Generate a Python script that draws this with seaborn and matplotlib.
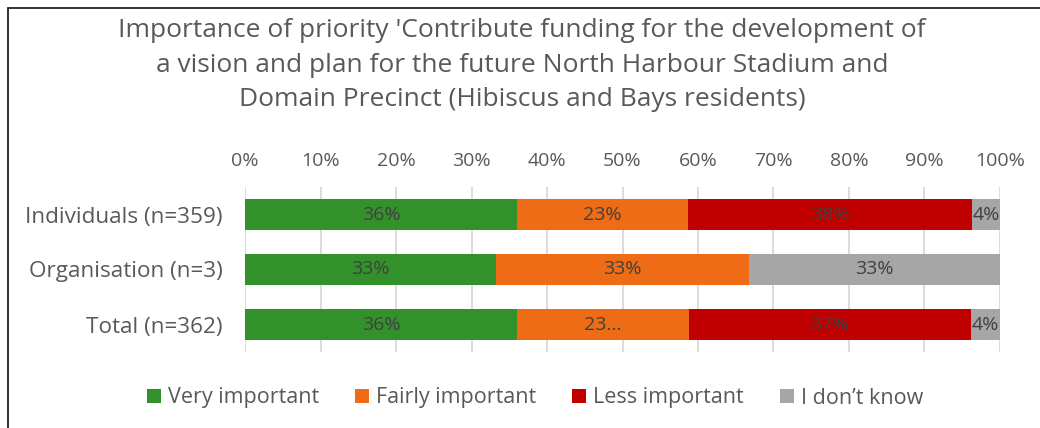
import matplotlib
matplotlib.use("Agg")
import matplotlib.pyplot as plt
import numpy as np
import pandas as pd
import seaborn as sns
from matplotlib.lines import Line2D
from matplotlib.patches import Patch

# ---------------------------------------------------------------------------
# Data (% of respondents)
# ---------------------------------------------------------------------------
groups = ["Individuals (n=359)", "Organisation (n=3)", "Total (n=362)"]
responses = ["Very important", "Fairly important", "Less important", "I don\u2019t know"]
very_important = [36.0, 33.3, 36.0]
fairly_important = [22.7, 33.4, 22.8]
less_important = [37.6, 0.0, 37.3]
dont_know = [3.7, 33.3, 3.9]
# the source chart shows these label strings (one is truncated in the original)
value_labels = [
    ["36%", "23%", "38%", "4%"],
    ["33%", "33%", "", "33%"],
    ["36%", "23...", "37%", "4%"],
]
title = ("Importance of priority 'Contribute funding for the development of\n"
         "a vision and plan for the future North Harbour Stadium and\n"
         "Domain Precinct (Hibiscus and Bays residents)")

colors = ["#33912b", "#ee6c15", "#c00000", "#a6a6a6"]
text_grey = "#595959"
label_grey = "#404040"

sns.set_theme(style="white")
plt.rcParams["font.family"] = ["Open Sans", "DejaVu Sans"]

df = pd.DataFrame(
    {"group": groups,
     responses[0]: very_important,
     responses[1]: fairly_important,
     responses[2]: less_important,
     responses[3]: dont_know}
)
cum = df[responses].cumsum(axis=1)

fig = plt.figure(figsize=(10.4, 4.28), dpi=100)
ax = fig.add_axes([245 / 1040, 1 - 352 / 428, 755 / 1040, 165 / 428])

# draw stacked bars back to front: each layer is the cumulative total
for resp, col in reversed(list(zip(responses, colors))):
    sns.barplot(x=cum[resp], y=df["group"], orient="h", color=col,
                width=0.58, saturation=1, edgecolor="none", ax=ax, zorder=3)

# segment labels centred in each segment
for i, row in df.iterrows():
    left = 0.0
    for j, resp in enumerate(responses):
        w = row[resp]
        if value_labels[i][j]:
            ax.text(left + w / 2, i, value_labels[i][j], ha="center", va="center",
                    fontsize=14, color=label_grey, zorder=4)
        left += w

ax.set_xlim(0, 100)
ax.set_ylim(2.5, -0.5)
ax.set_xticks(np.arange(0, 101, 10))
ax.set_xticklabels([f"{t}%" for t in range(0, 101, 10)])
ax.xaxis.tick_top()
ax.tick_params(axis="x", length=0, pad=12, labelsize=14, labelcolor=text_grey)
ax.tick_params(axis="y", length=0, pad=16, labelsize=16.2, labelcolor=text_grey)
ax.set_xlabel("")
ax.set_ylabel("")
ax.grid(axis="x", color="#d9d9d9", lw=1.3, zorder=0)
ax.grid(axis="y", visible=False)
for s in ax.spines.values():
    s.set_visible(False)

fig.text(522 / 1040, 1 - 18 / 428, title, ha="center", va="top",
         fontsize=19, color=text_grey, linespacing=1.5)

handles = [Patch(facecolor=c, edgecolor="none") for c in colors]
fig.legend(handles, responses, loc="center", bbox_to_anchor=(535 / 1040, 1 - 398 / 428),
           ncol=4, frameon=False, fontsize=15.5, labelcolor=text_grey,
           handlelength=0.65, handleheight=0.65, handletextpad=0.3, columnspacing=1.7)

# partial outer frame (left and top edges, as in the source crop)
fig.add_artist(Line2D([8 / 1040, 8 / 1040], [0, 1 - 8 / 428], transform=fig.transFigure,
                      color="#222222", lw=1.3))
fig.add_artist(Line2D([8 / 1040, 1], [1 - 8 / 428, 1 - 8 / 428], transform=fig.transFigure,
                      color="#222222", lw=1.3))

fig.savefig("out.png", dpi=100, facecolor="white")
